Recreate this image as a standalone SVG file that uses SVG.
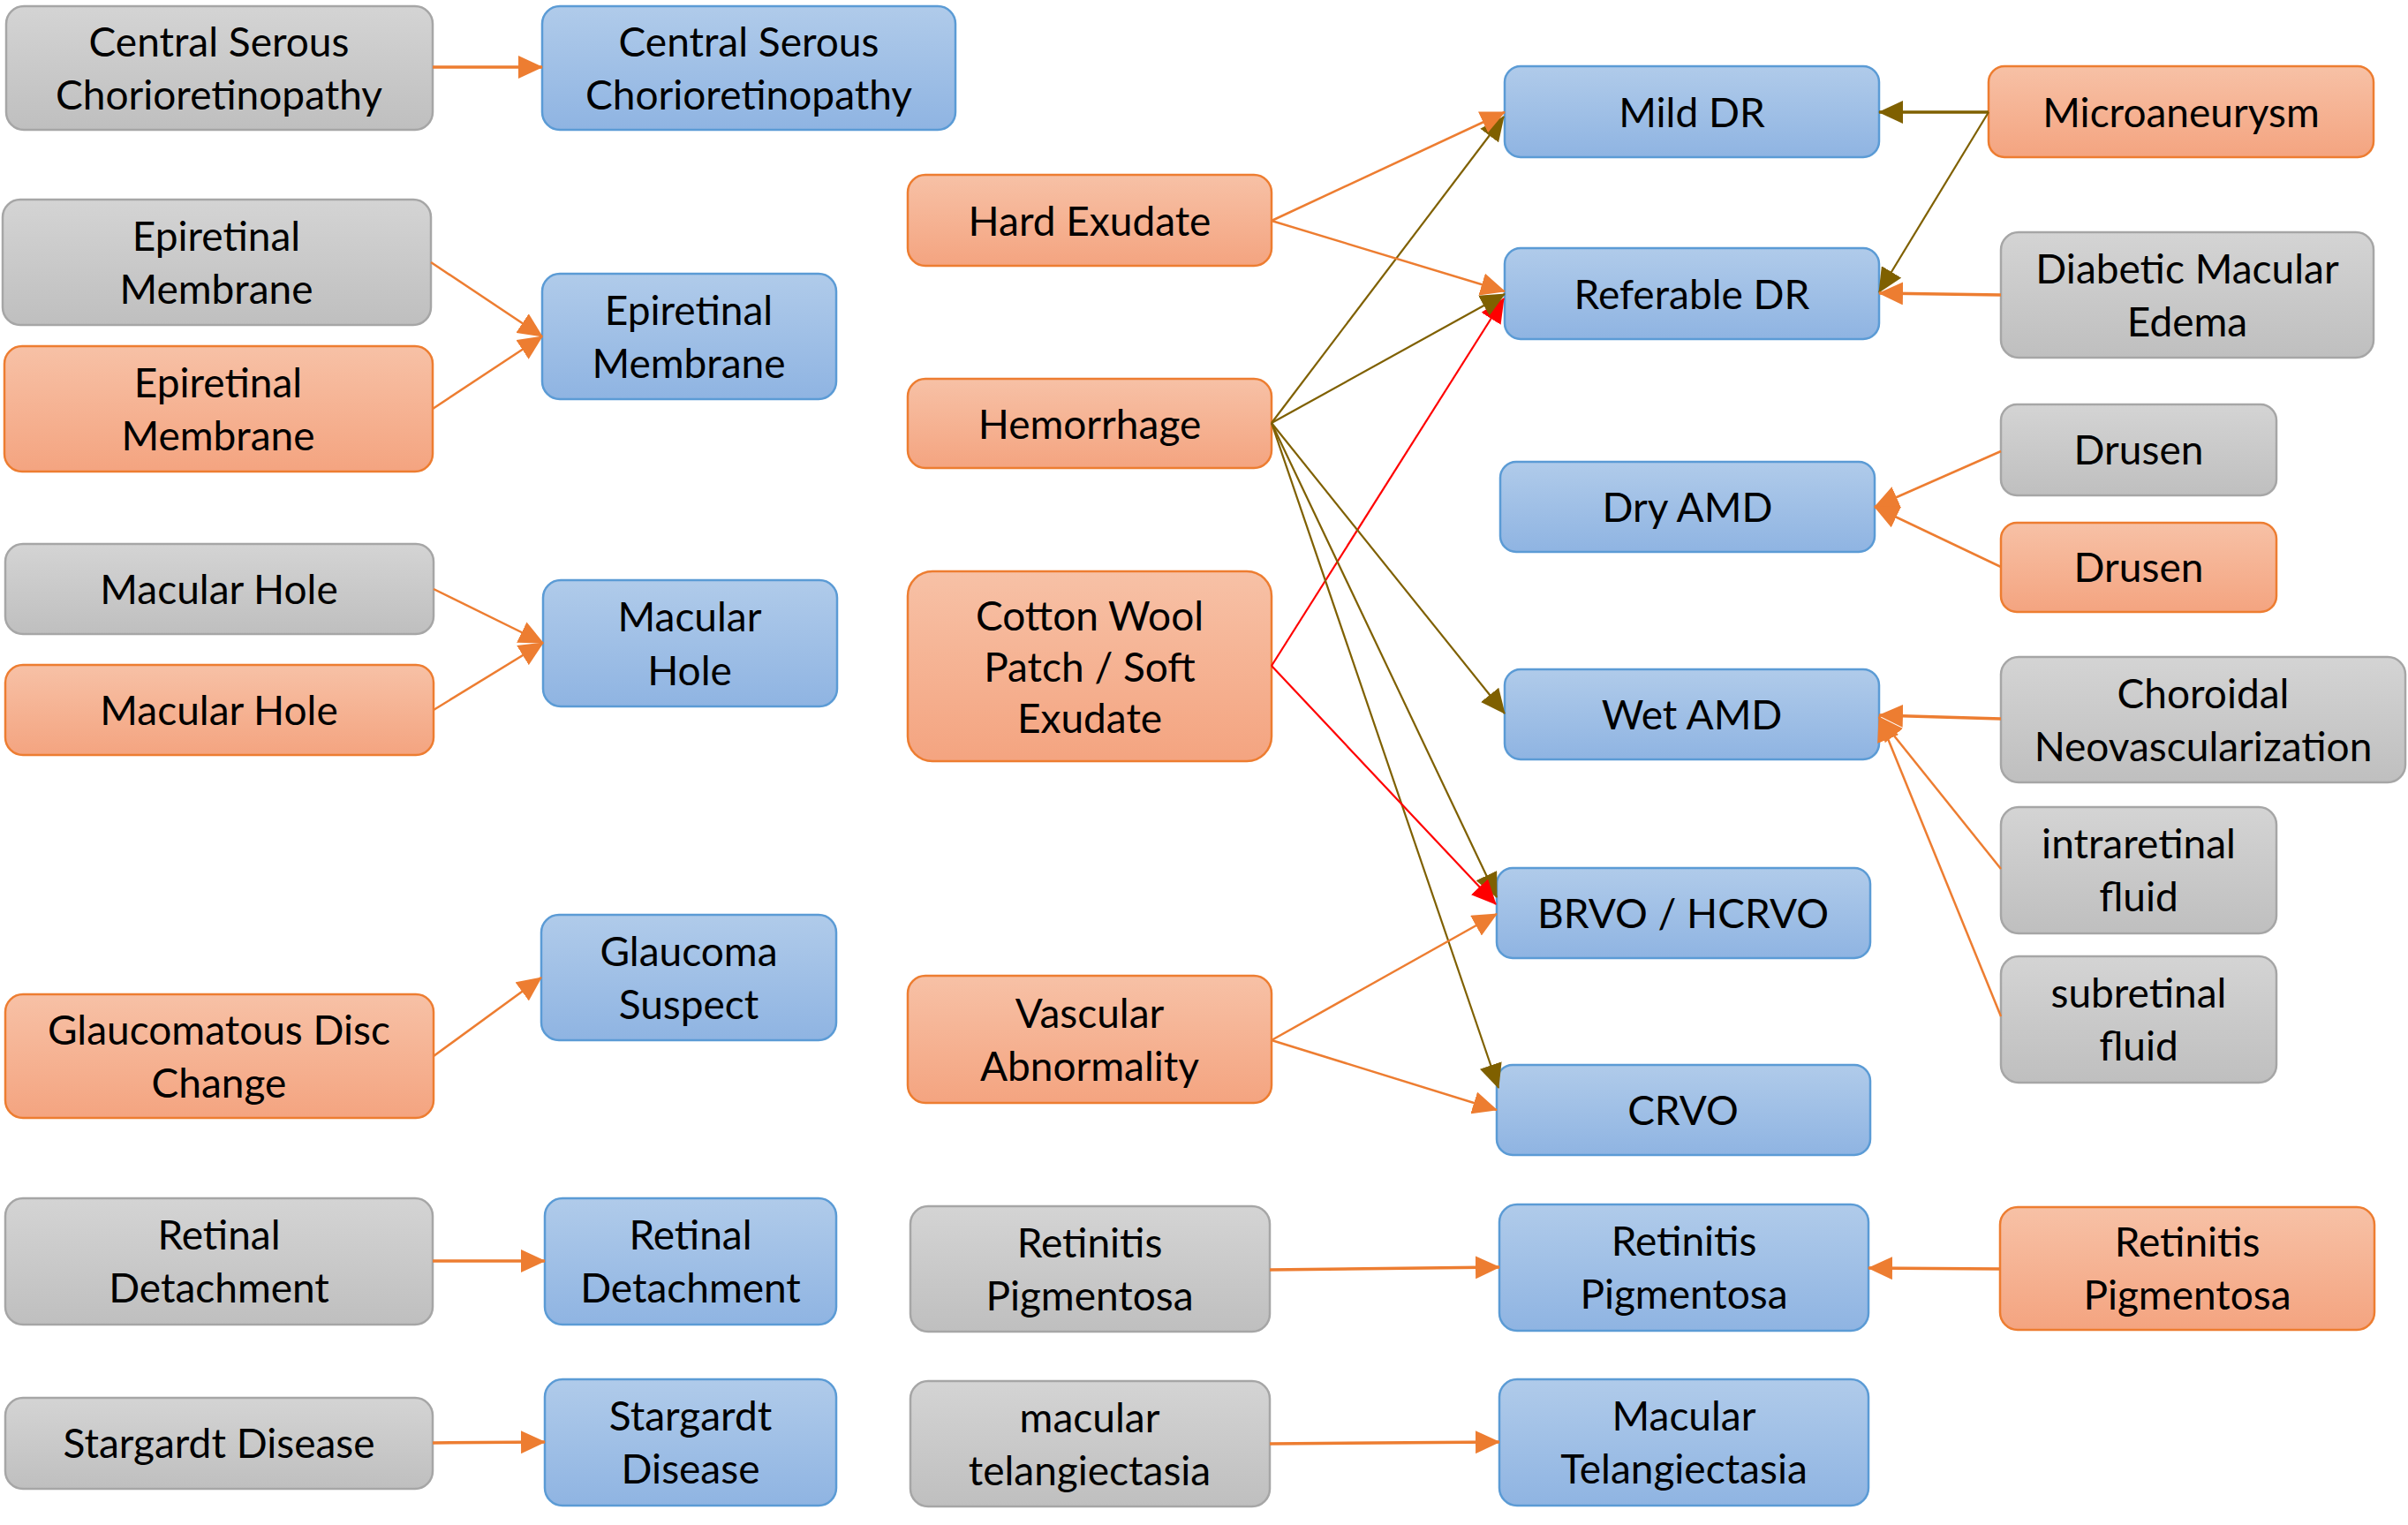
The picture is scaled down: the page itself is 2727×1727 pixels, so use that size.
<svg xmlns="http://www.w3.org/2000/svg" width="2727" height="1727" viewBox="0 0 2727 1727">
<defs>
<linearGradient id="gGray" x1="0" y1="0" x2="0" y2="1"><stop offset="0" stop-color="#d4d4d4"/><stop offset="1" stop-color="#bfbfbf"/></linearGradient>
<linearGradient id="gOrange" x1="0" y1="0" x2="0" y2="1"><stop offset="0" stop-color="#f7c1a6"/><stop offset="1" stop-color="#f4a480"/></linearGradient>
<linearGradient id="gBlue" x1="0" y1="0" x2="0" y2="1"><stop offset="0" stop-color="#b0cbea"/><stop offset="1" stop-color="#8fb4e2"/></linearGradient>
<marker id="aO" viewBox="0 0 28 26" refX="27" refY="13" markerWidth="28" markerHeight="26" markerUnits="userSpaceOnUse" orient="auto"><path d="M0,0 L28,13 L0,26 z" fill="#ed7d31"/></marker>
<marker id="aK" viewBox="0 0 28 26" refX="27" refY="13" markerWidth="28" markerHeight="26" markerUnits="userSpaceOnUse" orient="auto"><path d="M0,0 L28,13 L0,26 z" fill="#7f6000"/></marker>
<marker id="aR" viewBox="0 0 28 26" refX="27" refY="13" markerWidth="28" markerHeight="26" markerUnits="userSpaceOnUse" orient="auto"><path d="M0,0 L28,13 L0,26 z" fill="#ff0000"/></marker>
<style>
.gray rect{fill:url(#gGray);stroke:#a6a6a6;stroke-width:2.5}
.orange rect{fill:url(#gOrange);stroke:#ed7d31;stroke-width:2.5}
.blue rect{fill:url(#gBlue);stroke:#5b9bd5;stroke-width:2.5}
text{font-family:Lato,"Liberation Sans",sans-serif;font-size:46px;fill:#000;text-anchor:middle}
.co{stroke:#ed7d31;stroke-width:2.5;fill:none;marker-end:url(#aO)}
.ck{stroke:#7f6000;stroke-width:2.2;fill:none;marker-end:url(#aK)}
.cr{stroke:#ff0000;stroke-width:2.2;fill:none;marker-end:url(#aR)}
.thick{stroke-width:3.5}
</style>
</defs>
<rect width="2727" height="1727" fill="#ffffff"/>

<g id="n_csc_gray" class="gray"><rect x="7" y="7" width="483" height="140" rx="20"/><text x="248" y="64">Central Serous</text><text x="248" y="124">Chorioretinopathy</text></g>
<g id="n_csc_blue" class="blue"><rect x="614" y="7" width="468" height="140" rx="20"/><text x="848" y="64">Central Serous</text><text x="848" y="124">Chorioretinopathy</text></g>
<g id="n_erm_gray" class="gray"><rect x="3" y="226" width="485" height="142" rx="20"/><text x="245" y="284">Epiretinal</text><text x="245" y="344">Membrane</text></g>
<g id="n_erm_orange" class="orange"><rect x="5" y="392" width="485" height="142" rx="20"/><text x="247" y="450">Epiretinal</text><text x="247" y="510">Membrane</text></g>
<g id="n_erm_blue" class="blue"><rect x="614" y="310" width="333" height="142" rx="20"/><text x="780" y="368">Epiretinal</text><text x="780" y="428">Membrane</text></g>
<g id="n_mh_gray" class="gray"><rect x="6" y="616" width="485" height="102" rx="20"/><text x="248" y="684">Macular Hole</text></g>
<g id="n_mh_orange" class="orange"><rect x="6" y="753" width="485" height="102" rx="20"/><text x="248" y="821">Macular Hole</text></g>
<g id="n_mh_blue" class="blue"><rect x="615" y="657" width="333" height="143" rx="20"/><text x="781" y="715">Macular</text><text x="781" y="776">Hole</text></g>
<g id="n_gdc" class="orange"><rect x="6" y="1126" width="485" height="140" rx="20"/><text x="248" y="1183">Glaucomatous Disc</text><text x="248" y="1243">Change</text></g>
<g id="n_gs" class="blue"><rect x="613" y="1036" width="334" height="142" rx="20"/><text x="780" y="1094">Glaucoma</text><text x="780" y="1154">Suspect</text></g>
<g id="n_rd_gray" class="gray"><rect x="6" y="1357" width="484" height="143" rx="20"/><text x="248" y="1415">Retinal</text><text x="248" y="1475">Detachment</text></g>
<g id="n_rd_blue" class="blue"><rect x="617" y="1357" width="330" height="143" rx="20"/><text x="782" y="1415">Retinal</text><text x="782" y="1475">Detachment</text></g>
<g id="n_sd_gray" class="gray"><rect x="6" y="1583" width="484" height="103" rx="20"/><text x="248" y="1651">Stargardt Disease</text></g>
<g id="n_sd_blue" class="blue"><rect x="617" y="1562" width="330" height="143" rx="20"/><text x="782" y="1620">Stargardt</text><text x="782" y="1680">Disease</text></g>

<g id="n_he" class="orange"><rect x="1028" y="198" width="412" height="103" rx="20"/><text x="1234" y="267">Hard Exudate</text></g>
<g id="n_hem" class="orange"><rect x="1028" y="429" width="412" height="101" rx="20"/><text x="1234" y="497">Hemorrhage</text></g>
<g id="n_cw" class="orange"><rect x="1028" y="647" width="412" height="215" rx="28"/><text x="1234" y="714">Cotton Wool</text><text x="1234" y="772">Patch / Soft</text><text x="1234" y="830">Exudate</text></g>
<g id="n_va" class="orange"><rect x="1028" y="1105" width="412" height="144" rx="20"/><text x="1234" y="1164">Vascular</text><text x="1234" y="1224">Abnormality</text></g>
<g id="n_rp_gray" class="gray"><rect x="1031" y="1366" width="407" height="142" rx="20"/><text x="1234" y="1424">Retinitis</text><text x="1234" y="1484">Pigmentosa</text></g>
<g id="n_mt_gray" class="gray"><rect x="1031" y="1564" width="407" height="142" rx="20"/><text x="1234" y="1622">macular</text><text x="1234" y="1682">telangiectasia</text></g>

<g id="n_mild" class="blue"><rect x="1704" y="75" width="424" height="103" rx="18"/><text x="1916" y="144">Mild DR</text></g>
<g id="n_ref" class="blue"><rect x="1704" y="281" width="424" height="103" rx="18"/><text x="1916" y="350">Referable DR</text></g>
<g id="n_dry" class="blue"><rect x="1699" y="523" width="424" height="102" rx="18"/><text x="1911" y="591">Dry AMD</text></g>
<g id="n_wet" class="blue"><rect x="1704" y="758" width="424" height="102" rx="18"/><text x="1916" y="826">Wet AMD</text></g>
<g id="n_brvo" class="blue"><rect x="1695" y="983" width="423" height="102" rx="18"/><text x="1906" y="1051">BRVO / HCRVO</text></g>
<g id="n_crvo" class="blue"><rect x="1695" y="1206" width="423" height="102" rx="18"/><text x="1906" y="1274">CRVO</text></g>
<g id="n_rp_blue" class="blue"><rect x="1698" y="1364" width="418" height="143" rx="20"/><text x="1907" y="1422">Retinitis</text><text x="1907" y="1482">Pigmentosa</text></g>
<g id="n_mt_blue" class="blue"><rect x="1698" y="1562" width="418" height="143" rx="20"/><text x="1907" y="1620">Macular</text><text x="1907" y="1680">Telangiectasia</text></g>

<g id="n_ma" class="orange"><rect x="2252" y="75" width="436" height="103" rx="18"/><text x="2470" y="144">Microaneurysm</text></g>
<g id="n_dme" class="gray"><rect x="2266" y="263" width="422" height="142" rx="20"/><text x="2477" y="321">Diabetic Macular</text><text x="2477" y="381">Edema</text></g>
<g id="n_dr_gray" class="gray"><rect x="2266" y="458" width="312" height="103" rx="18"/><text x="2422" y="526">Drusen</text></g>
<g id="n_dr_orange" class="orange"><rect x="2266" y="592" width="312" height="101" rx="18"/><text x="2422" y="659">Drusen</text></g>
<g id="n_cnv" class="gray"><rect x="2266" y="744" width="458" height="142" rx="20"/><text x="2495" y="802">Choroidal</text><text x="2495" y="862">Neovascularization</text></g>
<g id="n_irf" class="gray"><rect x="2266" y="914" width="312" height="143" rx="20"/><text x="2422" y="972">intraretinal</text><text x="2422" y="1032">fluid</text></g>
<g id="n_srf" class="gray"><rect x="2266" y="1083" width="312" height="143" rx="20"/><text x="2422" y="1141">subretinal</text><text x="2422" y="1201">fluid</text></g>
<g id="n_rp_orange" class="orange"><rect x="2265" y="1367" width="424" height="139" rx="20"/><text x="2477" y="1423">Retinitis</text><text x="2477" y="1483">Pigmentosa</text></g>

<g id="connectors">
<line class="co thick" x1="490" y1="76" x2="614" y2="76"/>
<line class="co" x1="488" y1="297" x2="614" y2="381"/>
<line class="co" x1="490" y1="463" x2="614" y2="381"/>
<line class="co" x1="491" y1="667" x2="615" y2="728"/>
<line class="co" x1="491" y1="804" x2="615" y2="728"/>
<line class="co" x1="491" y1="1196" x2="613" y2="1107"/>
<line class="co thick" x1="490" y1="1428" x2="617" y2="1428"/>
<line class="co thick" x1="490" y1="1634" x2="617" y2="1633"/>
<line class="co thick" x1="1438" y1="1438" x2="1698" y2="1435"/>
<line class="co thick" x1="1438" y1="1635" x2="1698" y2="1633"/>
<line class="co thick" x1="2265" y1="1437" x2="2116" y2="1436"/>
<line class="cr" x1="1440" y1="754" x2="1703" y2="338"/>
<line class="ck" x1="1440" y1="479" x2="1703" y2="132"/>
<line class="ck" x1="1440" y1="479" x2="1704" y2="333"/>
<line class="ck" x1="1440" y1="479" x2="1704" y2="808"/>
<line class="ck" x1="1440" y1="479" x2="1695" y2="1016"/>
<line class="ck" x1="1440" y1="479" x2="1697" y2="1232"/>
<line class="cr" x1="1440" y1="754" x2="1694" y2="1024"/>
<line class="co" x1="1440" y1="250" x2="1704" y2="127"/>
<line class="co" x1="1440" y1="250" x2="1704" y2="330"/>
<line class="co" x1="1440" y1="1178" x2="1695" y2="1035"/>
<line class="co" x1="1440" y1="1178" x2="1695" y2="1257"/>
<line class="ck thick" x1="2252" y1="127" x2="2128" y2="127"/>
<line class="ck" x1="2252" y1="127" x2="2128" y2="331"/>
<line class="co thick" x1="2266" y1="334" x2="2128" y2="332"/>
<line class="co" x1="2266" y1="511" x2="2123" y2="574"/>
<line class="co" x1="2266" y1="642" x2="2123" y2="574"/>
<line class="co" x1="2266" y1="984" x2="2128" y2="812"/>
<line class="co" x1="2266" y1="1151" x2="2128" y2="812"/>
<line class="co thick" x1="2266" y1="814" x2="2128" y2="810"/>
</g>
</svg>
